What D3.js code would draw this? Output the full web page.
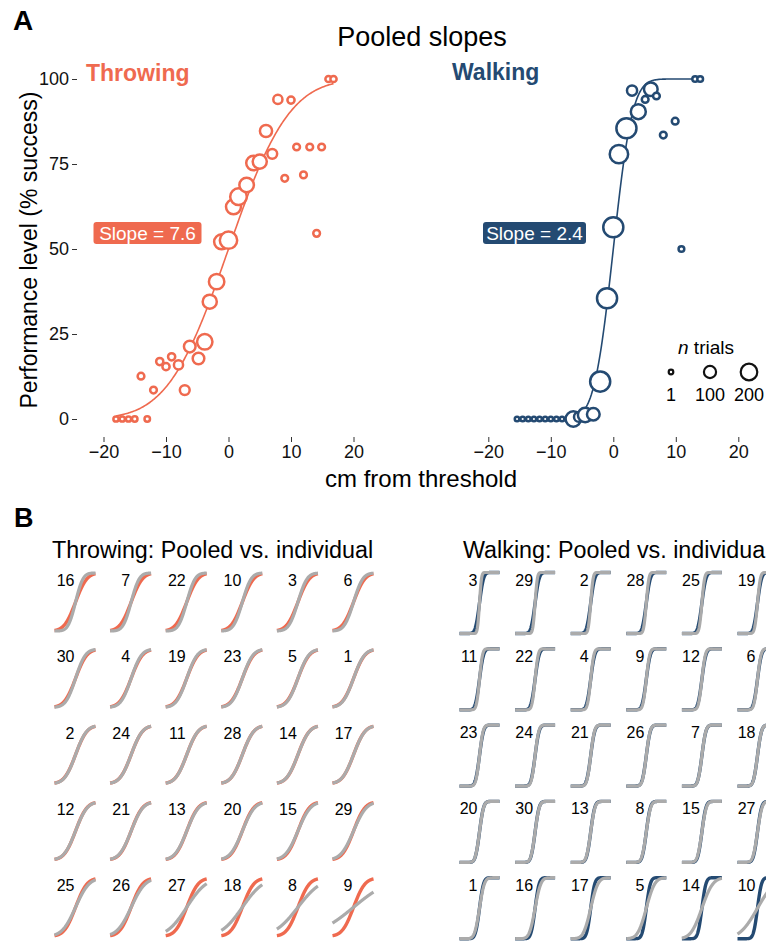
<!DOCTYPE html>
<html>
<head>
<meta charset="utf-8">
<script src="https://cdn.jsdelivr.net/npm/d3@7"></script>
<style>
  body { margin: 0; background: #fff; }
  svg { display: block; font-family: "Liberation Sans", Arial, Helvetica, sans-serif; }
</style>
</head>
<body>
<div id="chart"></div>
<script>
// ---- pooled data, throwing ----
const throwX = [-18, -17, -16, -15, -13, -14, -12, -11, -9.1, -10, -8, -7, -6.2, -4.8, -3.8, -3, -1.9, -1.1, 0, 0.8, 1.6, 2.9, 4, 5, 6, 7, 7.9, 10, 9, 12, 10.9, 13, 14.9, 14.1, 16, 16.8];
const throwY = [0, 0, 0, 0, 0, 12.6, 8.5, 16.9, 18.3, 15.4, 15.9, 8.5, 21.3, 17.8, 22.7, 34.5, 40.4, 52.1, 52.6, 62.4, 65.4, 68.8, 75.3, 75.7, 84.7, 78, 94, 93.8, 70.8, 71.8, 80, 80, 80, 54.6, 100, 100];
const throwN = [6, 6, 6, 8, 8, 20, 20, 25, 25, 25, 50, 60, 90, 90, 170, 140, 170, 160, 220, 160, 200, 150, 150, 140, 100, 60, 50, 25, 20, 20, 20, 20, 20, 20, 15, 15];

// ---- pooled data, walking ----
const walkX = [-15.4, -14.5, -13.6, -12.7, -11.8, -10.9, -10.0, -9.1, -8.2, -7.2, -6.4, -5.5, -4.5, -3.2, -2.1, -1, 0, 0.9, 2.1, 3, 4, 5.1, 6, 6.9, 8, 9.9, 10.9, 13.1, 13.9];
const walkY = [0, 0, 0, 0, 0, 0, 0, 0, 0, 0, 0, 0.6, 1.2, 1.4, 11, 35.5, 56.4, 77.9, 85.5, 96.6, 90.4, 94, 97, 95, 83.5, 87.6, 50, 100, 100];
const walkN = [1, 1, 1, 1, 1, 1, 1, 1, 1, 10, 170, 60, 150, 110, 300, 300, 300, 250, 300, 65, 160, 20, 130, 20, 20, 20, 10, 10, 10];

// fitted slopes (sd of cumulative normal)
const throwSlope = 7.6;
const walkSlope = 2.4;

// ---- individual fits (panel B), in display order ----
const throwIds = [16, 7, 22, 10, 3, 6, 30, 4, 19, 23, 5, 1, 2, 24, 11, 28, 14, 17, 12, 21, 13, 20, 15, 29, 25, 26, 27, 18, 8, 9];
const throwSd = [5.0, 5.4, 5.6, 5.9, 6.1, 6.2, 6.6, 6.9, 7.0, 7.1, 7.2, 7.3, 7.4, 7.5, 7.5, 7.6, 7.7, 7.7, 7.8, 7.9, 8.0, 8.2, 8.4, 8.6, 9.0, 9.4, 13.0, 14.0, 15.5, 24.0];
const walkIds = [3, 29, 2, 28, 25, 19, 11, 22, 4, 9, 12, 6, 23, 24, 21, 26, 7, 18, 20, 30, 13, 8, 15, 27, 1, 16, 17, 5, 14, 10];
const walkSd = [1.2, 1.35, 1.45, 1.55, 1.6, 1.7, 1.8, 1.85, 1.9, 2.0, 2.05, 2.1, 2.15, 2.2, 2.25, 2.3, 2.35, 2.4, 2.45, 2.5, 2.55, 2.6, 2.65, 2.7, 2.9, 3.4, 4.3, 5.0, 6.5, 10.5];

const xTicks = [-20, -10, 0, 10, 20];
const yTicks = [0, 25, 50, 75, 100];
const legendN = [1, 100, 200];

const coral = "#ef6a4f";
const navy = "#244a72";
const grey = "#ababab";

const width = 766;
const height = 946;

// normal cdf (Abramowitz & Stegun erf)
function phi(z) {
  const t = 1 / (1 + 0.3275911 * Math.abs(z) / Math.SQRT2);
  const y = 1 - (((((1.061405429 * t - 1.453152027) * t) + 1.421413741) * t - 0.284496736) * t + 0.254829592) * t * Math.exp(-z * z / 2);
  return z >= 0 ? (1 + y) / 2 : (1 - y) / 2;
}

function curve(lo, hi, mu, sd) {
  return d3.range(lo, hi + 0.001, (hi - lo) / 200).map((x) => [x, phi((x - mu) / sd)]);
}

const svg = d3
  .select("#chart")
  .append("svg")
  .attr("width", width)
  .attr("height", height);

// ------------
// PANEL A
// ------------
const y = d3.scaleLinear().domain([0, 100]).range([419, 79]);
const xL = d3.scaleLinear().domain([-20, 20]).range([103.5, 353.5]);
const xR = d3.scaleLinear().domain([-20, 20]).range([488.3, 738.3]);
const r = d3.scaleRadial().domain([1, 200]).range([2.3, 8.3]);

svg.append("text").attr("x", 13).attr("y", 30)
  .style("font-size", "28px").style("font-weight", 700).text("A");

svg.append("text").attr("x", 422).attr("y", 46).attr("text-anchor", "middle")
  .style("font-size", "27px").text("Pooled slopes");

// axes
const yAxis = svg.append("g").attr("transform", "translate(77,0)")
  .call(d3.axisLeft(y).tickValues(yTicks).tickSize(5).tickPadding(3));
const xAxisL = svg.append("g").attr("transform", "translate(0,437)")
  .call(d3.axisBottom(xL).tickValues(xTicks).tickSize(5).tickPadding(3));
const xAxisR = svg.append("g").attr("transform", "translate(0,437)")
  .call(d3.axisBottom(xR).tickValues(xTicks).tickSize(5).tickPadding(3));

[yAxis, xAxisL, xAxisR].forEach((g) => {
  g.select(".domain").remove();
  g.selectAll(".tick line").attr("stroke", "#333");
  g.selectAll(".tick text").style("font-size", "18px").attr("fill", "#111")
    .style("font-family", "\"Liberation Sans\", Arial, sans-serif");
});

svg.append("text")
  .attr("transform", "translate(37,250) rotate(-90)")
  .attr("text-anchor", "middle")
  .style("font-size", "23px")
  .text("Performance level (% success)");

svg.append("text").attr("x", 421).attr("y", 487).attr("text-anchor", "middle")
  .style("font-size", "24px").text("cm from threshold");

function drawPooled(xs, xv, yv, nv, slope, color, lo, hi) {
  const line = d3.line().x((d) => xs(d[0])).y((d) => y(d[1] * 100));
  svg.append("path")
    .datum(curve(lo, hi, 0, slope))
    .attr("d", line)
    .attr("fill", "none")
    .attr("stroke", color)
    .attr("stroke-width", 1.6);

  svg.append("g")
    .selectAll("circle")
    .data(xv.map((v, i) => ({ x: v, y: yv[i], n: nv[i] })))
    .enter()
    .append("circle")
    .attr("cx", (d) => xs(d.x))
    .attr("cy", (d) => y(d.y))
    .attr("r", (d) => r(d.n))
    .attr("fill", "#fff")
    .attr("stroke", color)
    .attr("stroke-width", 2.5);
}

drawPooled(xL, throwX, throwY, throwN, throwSlope, coral, -18, 16.8);
drawPooled(xR, walkX, walkY, walkN, walkSlope, navy, -15.4, 13.9);

// group labels
svg.append("text").attr("x", 86).attr("y", 81)
  .style("font-size", "23px").style("font-weight", 700).attr("fill", coral).text("Throwing");
svg.append("text").attr("x", 452).attr("y", 80)
  .style("font-size", "23px").style("font-weight", 700).attr("fill", navy).text("Walking");

// slope badges
function badge(x0, y0, w, color, label) {
  svg.append("rect").attr("x", x0).attr("y", y0).attr("width", w).attr("height", 22)
    .attr("rx", 3).attr("fill", color);
  svg.append("text").attr("x", x0 + w / 2).attr("y", y0 + 18).attr("text-anchor", "middle")
    .attr("fill", "#fff").style("font-size", "19px").text(label);
}
badge(93.5, 222, 108, coral, "Slope = " + throwSlope);
badge(483, 222, 103, navy, "Slope = " + walkSlope);

// size legend
const legend = svg.append("g");
const legX = d3.scalePoint().domain(legendN).range([671, 749]);
legend.append("text").attr("x", 678).attr("y", 354).style("font-size", "19px")
  .call((t) => {
    t.append("tspan").style("font-style", "italic").text("n");
    t.append("tspan").text(" trials");
  });
legend.selectAll("circle").data(legendN).enter().append("circle")
  .attr("cx", (d) => legX(d))
  .attr("cy", 372)
  .attr("r", (d) => r(d))
  .attr("fill", "none")
  .attr("stroke", "#111")
  .attr("stroke-width", 2.2);
legend.selectAll("text.lab").data(legendN).enter().append("text")
  .attr("class", "lab")
  .attr("x", (d) => legX(d))
  .attr("y", 401)
  .attr("text-anchor", "middle")
  .style("font-size", "18px")
  .text((d) => d);

// ------------
// PANEL B
// ------------
svg.append("text").attr("x", 14).attr("y", 527)
  .style("font-size", "27px").style("font-weight", 700).text("B");

svg.append("text").attr("x", 52).attr("y", 558)
  .style("font-size", "23.3px").text("Throwing: Pooled vs. individual");
svg.append("text").attr("x", 463).attr("y", 558)
  .style("font-size", "23.3px").text("Walking: Pooled vs. individual");

function drawGrid(ids, sds, slope, color, domain, left0, top0, w, h, labelOff) {
  const mx = d3.scaleLinear().domain(domain).range([0, w]);
  const my = d3.scaleLinear().domain([0, 1]).range([h, 0]);
  const line = d3.line().x((d) => mx(d[0])).y((d) => my(d[1]));
  const colStep = 55.6;
  const rowStep = 76.3;

  ids.forEach((id, i) => {
    const col = i % 6;
    const row = Math.floor(i / 6);
    const g = svg.append("g")
      .attr("transform", `translate(${left0 + col * colStep},${top0 + row * rowStep})`);

    g.append("path")
      .datum(curve(domain[0], domain[1], 0, slope))
      .attr("d", line)
      .attr("fill", "none")
      .attr("stroke", color)
      .attr("stroke-width", 3.4);

    g.append("path")
      .datum(curve(domain[0], domain[1], 0, sds[i]))
      .attr("d", line)
      .attr("fill", "none")
      .attr("stroke", grey)
      .attr("stroke-width", 3.2);

    g.append("text")
      .attr("x", labelOff)
      .attr("y", 13)
      .attr("text-anchor", "end")
      .style("font-size", "16px")
      .text(id);
  });
}

drawGrid(throwIds, throwSd, throwSlope, coral, [-18, 17], 54.5, 573, 41, 58, 20);
drawGrid(walkIds, walkSd, walkSlope, navy, [-15, 15], 459.5, 572.5, 40, 61, 18);
</script>
</body>
</html>
